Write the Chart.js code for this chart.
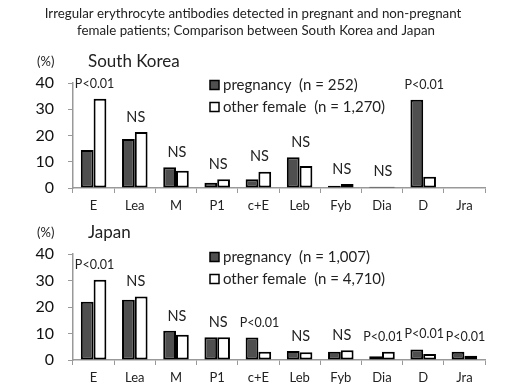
<!DOCTYPE html>
<html>
<head>
<meta charset="utf-8">
<script src="https://cdn.jsdelivr.net/npm/chart.js@4.4.1/dist/chart.umd.min.js"></script>
<style>
  html, body { margin: 0; padding: 0; background: #fff; }
  #wrap { position: relative; width: 520px; height: 390px; }
  canvas { position: absolute; left: 0; top: 0; }
</style>
</head>
<body>
<div id="wrap">
  <canvas id="korea" width="520" height="390"></canvas>
  <canvas id="japan" width="520" height="390"></canvas>
</div>
<script>
const antigens = ['E', 'Lea', 'M', 'P1', 'c+E', 'Leb', 'Fyb', 'Dia', 'D', 'Jra'];
const yTicks = [0, 10, 20, 30, 40];

const koreaPregnancy = [14.5, 18.7, 7.9, 2.0, 3.3, 11.7, 0.9, 0.5, 33.6, 0];
const koreaOther = [34.0, 21.3, 6.6, 3.3, 6.2, 8.4, 1.5, 0.5, 4.3, 0];
const koreaSig = ['P<0.01', 'NS', 'NS', 'NS', 'NS', 'NS', 'NS', 'NS', 'P<0.01', ''];

const japanPregnancy = [22.0, 22.7, 11.0, 8.6, 8.5, 3.4, 3.1, 1.4, 4.0, 3.1];
const japanOther = [30.3, 24.0, 9.5, 8.6, 3.1, 2.9, 3.7, 3.1, 2.3, 1.6];
const japanSig = ['P<0.01', 'NS', 'NS', 'NS', 'P<0.01', 'NS', 'NS', 'P<0.01', 'P<0.01', 'P<0.01'];

const titleLines = [
  'Irregular erythrocyte antibodies detected in pregnant and non-pregnant',
  'female patients; Comparison between South Korea and Japan'
];

const FONT = 'Lato';
const DARK = '#4f4f4f';

// draws the free text: title, region label, legend and significance marks
const overlay = {
  id: 'overlay',
  afterDraw(chart, args, opts) {
    const ctx = chart.ctx;
    const area = chart.chartArea;
    const xs = chart.scales.x;
    const ys = chart.scales.y;
    ctx.save();
    ctx.textBaseline = 'middle';

    if (opts.title) {
      ctx.fillStyle = '#222';
      ctx.font = '13.3px ' + FONT;
      ctx.textAlign = 'center';
      ctx.fillText(opts.title[0], 253, 14);
      ctx.fillText(opts.title[1], 256, 31);
    }

    ctx.textAlign = 'left';
    ctx.fillStyle = '#222';
    ctx.font = '13px ' + FONT;
    ctx.fillText('(%)', 37, area.top - 21);
    ctx.font = '17px ' + FONT;
    ctx.fillText(opts.region, 88, area.top - 21);

    // legend
    const rows = [
      { fill: DARK, text: 'pregnancy  (n = ' + opts.nPreg + ')' },
      { fill: '#fff', text: 'other female  (n = ' + opts.nOther + ')' }
    ];
    ctx.font = '15px ' + FONT;
    rows.forEach(function (r, i) {
      const y = area.top + opts.legendTop + i * 22;
      ctx.fillStyle = r.fill;
      ctx.fillRect(210, y - 4.5, 9, 9);
      ctx.strokeStyle = '#000';
      ctx.lineWidth = 1.5;
      ctx.strokeRect(210, y - 4.5, 9, 9);
      ctx.fillStyle = '#222';
      ctx.fillText(r.text, 223, y);
    });

    // significance labels
    ctx.textAlign = 'center';
    const p = chart.data.datasets[0].data;
    const o = chart.data.datasets[1].data;
    opts.sig.forEach(function (s, i) {
      if (!s) return;
      ctx.font = (s === 'NS' ? '14.5px ' : '12.5px ') + FONT;
      const x = xs.getPixelForValue(i);
      const y = ys.getPixelForValue(Math.max(p[i], o[i])) - 15;
      ctx.fillText(s, x + 1, y);
    });
    ctx.restore();
  }
};

function makeChart(id, pregnancy, other, opts, padTop, padBottom) {
  return new Chart(document.getElementById(id), {
    type: 'bar',
    data: {
      labels: antigens,
      datasets: [
        {
          label: 'pregnancy',
          data: pregnancy,
          backgroundColor: DARK,
          borderColor: '#000',
          borderWidth: 2,
          borderSkipped: false
        },
        {
          label: 'other female',
          data: other,
          backgroundColor: '#fff',
          borderColor: '#000',
          borderWidth: 2,
          borderSkipped: false
        }
      ]
    },
    options: {
      responsive: false,
      animation: false,
      layout: { padding: { top: padTop, bottom: padBottom, left: 0, right: 35 } },
      datasets: { bar: { categoryPercentage: 0.62, barPercentage: 1 } },
      plugins: {
        legend: { display: false },
        tooltip: { enabled: false },
        overlay: opts
      },
      scales: {
        x: {
          grid: { drawOnChartArea: false, tickLength: 5, color: '#999', offset: true },
          border: { color: '#999', width: 1.5 },
          ticks: { font: { family: FONT, size: 13 }, color: '#222', padding: 5 },
          afterFit: function (s) { s.height = 30; }
        },
        y: {
          min: 0,
          max: 40,
          grid: { drawOnChartArea: false, tickLength: 5, color: '#999' },
          border: { color: '#999', width: 1.5 },
          ticks: { font: { family: FONT, size: 16 }, color: '#111', padding: 14 },
          afterBuildTicks: function (s) { s.ticks = yTicks.map(function (v) { return { value: v }; }); },
          afterFit: function (s) { s.width = 73; }
        }
      }
    },
    plugins: [overlay]
  });
}

makeChart('korea', koreaPregnancy, koreaOther, {
  title: titleLines,
  region: 'South Korea',
  nPreg: '252',
  nOther: '1,270',
  legendTop: 2,
  sig: koreaSig
}, 83, 172);

makeChart('japan', japanPregnancy, japanOther, {
  region: 'Japan',
  nPreg: '1,007',
  nOther: '4,710',
  legendTop: 3,
  sig: japanSig
}, 254, 0);
</script>
</body>
</html>
